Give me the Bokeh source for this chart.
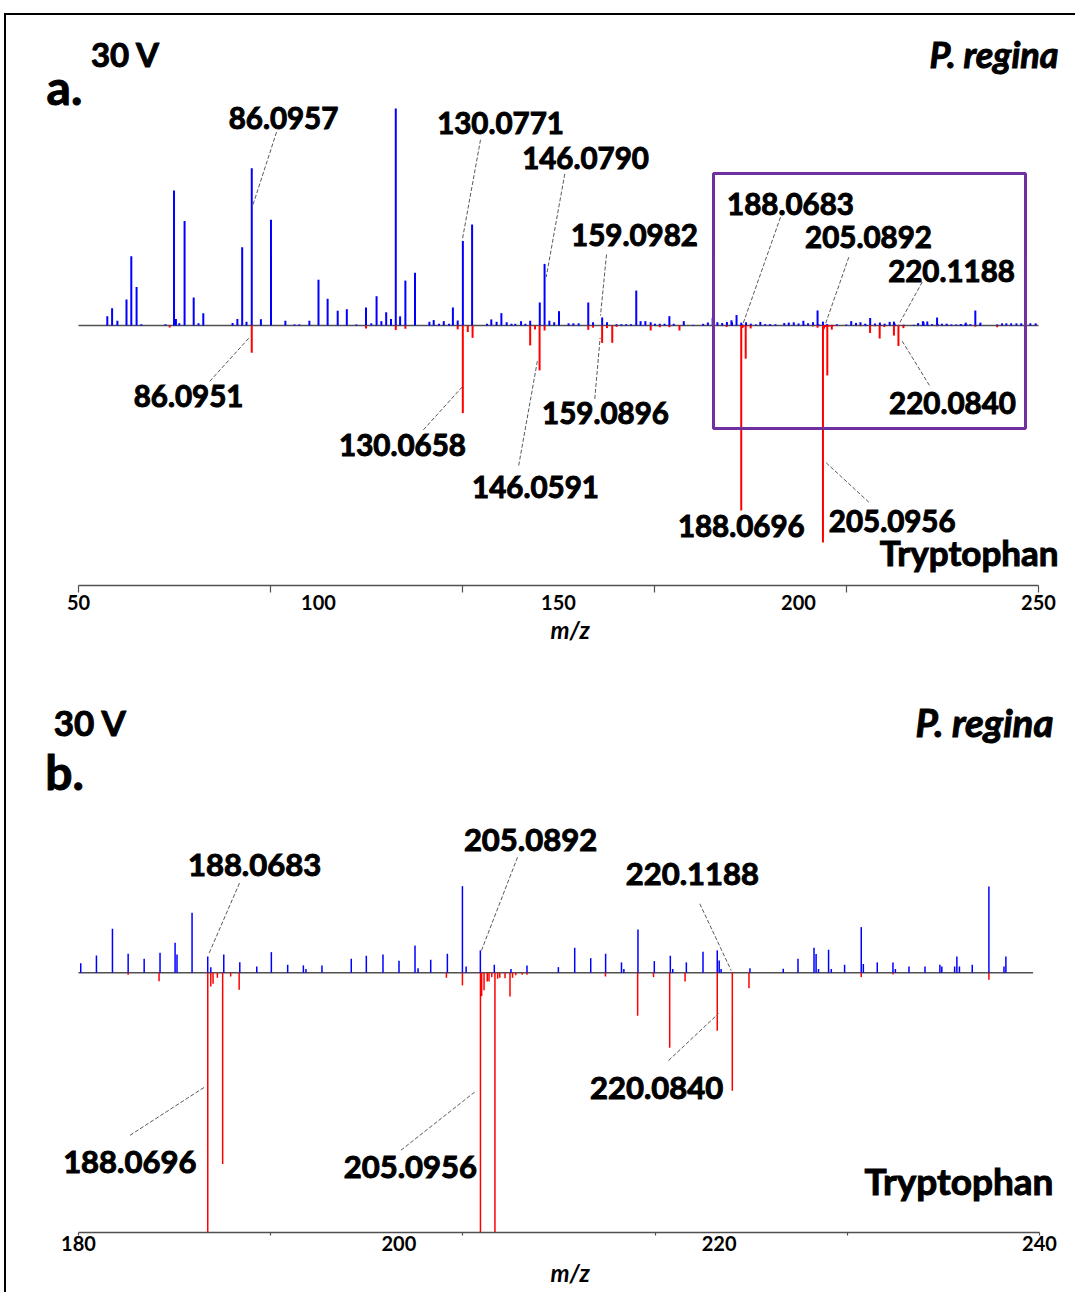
from bokeh.plotting import figure
from bokeh.models import LinearAxis, FixedTicker, Label, Range1d, BoxAnnotation, Title
from bokeh.layouts import column
from bokeh.embed import file_html
from bokeh.resources import INLINE

# ---------------- data (m/z, relative intensity %) ----------------
# upper trace (blue): sample spectrum
pos_mz = [56.0, 57.0, 58.1, 60.0, 61.0, 62.1, 63.1, 68.1, 69.9, 70.3, 71.0, 72.1, 74.0, 75.0, 76.0,
          82.1, 83.1, 84.1, 85.0, 86.0957, 88.0, 90.1, 93.1, 95.0, 96.0, 98.1, 100.0, 101.9, 104.0,
          105.9, 107.9, 109.9, 111.0, 112.1, 113.1, 114.1, 115.1, 116.1, 117.0, 118.1, 120.1, 123.1,
          124.0, 125.1, 126.1, 127.2, 128.0, 129.0, 130.0771, 132.0, 135.1, 136.0, 137.1, 138.1,
          139.2, 140.2, 141.0, 142.2, 143.1, 144.1, 146.1, 147.1, 148.1, 149.1, 150.1, 152.1, 153.1,
          154.2, 156.2, 157.2, 159.0982, 160.1, 162.1, 163.1, 164.1, 165.1, 166.2, 167.1, 168.1,
          169.2, 170.1, 171.1, 172.1, 173.1, 174.0, 176.1, 178.1,
          180.14, 181.12, 182.12, 183.1, 184.1, 185.09, 186.03, 186.15, 187.09, 188.0683, 188.26,
          189.07, 190.07, 191.13, 192.04, 193.06, 194.04, 194.2, 195.2, 197.03, 197.97, 199.01,
          200.01, 201.01, 201.2, 201.99, 203.03, 203.97, 204.2, 205.0892, 205.96, 207.0, 208.0,
          209.96, 210.98, 211.98, 212.91, 213.9, 214.05, 214.93, 215.95, 216.95, 217.1, 217.95,
          218.99, 219.88, 220.0, 220.1188, 221.92, 224.0, 224.92, 225.92, 226.05, 226.2, 226.83,
          227.0, 227.83, 228.87, 229.0, 229.87, 230.85, 231.0, 231.85, 232.85, 233.78, 233.9,
          234.7, 234.84, 235.0, 235.8, 236.84, 237.78, 237.9,
          241.4, 242.4, 243.3, 244.3, 245.4, 246.4, 247.3, 248.3, 249.4]
pos_int = [4.3, 8.0, 2.2, 12.0, 31.9, 17.7, 0.6, 0.6, 62.2, 3.0, 1.0, 48.1, 12.9, 1.0, 5.7,
           1.2, 3.0, 36.1, 1.7, 72.5, 2.9, 48.7, 2.2, 0.5, 0.5, 2.2, 21.1, 12.3, 6.8,
           7.5, 0.5, 8.3, 1.0, 13.5, 2.0, 6.1, 3.0, 100.0, 4.2, 20.7, 24.3, 1.7,
           2.5, 0.8, 2.0, 0.8, 8.3, 2.3, 38.9, 46.5, 0.8, 2.8, 1.7, 5.7,
           1.5, 0.8, 0.8, 2.0, 0.8, 2.2, 10.6, 28.4, 2.2, 1.5, 6.6, 1.0, 1.0,
           1.0, 10.6, 1.5, 3.7, 1.5, 0.6, 0.6, 0.6, 0.6, 16.1, 2.0, 2.0,
           1.5, 0.8, 0.8, 0.8, 4.3, 0.8, 2.0, 0.3,
           0.77, 1.39, 3.52, 1.52, 1.12, 1.6, 2.4, 1.47, 4.8, 1.31, 0.45,
           1.47, 0.85, 0.5, 1.65, 0.64, 0.59, 0.3, 0.59, 1.12, 1.36, 1.47,
           0.96, 2.19, 0.37, 1.04, 1.52, 6.93, 0.5, 1.79, 0.64, 0.3, 0.59,
           0.45, 2.0, 1.17, 1.52, 0.83, 0.3, 3.47, 0.93, 1.36, 0.3, 0.83,
           1.68, 1.79, 0.99, 0.3, 0.37, 0.32, 1.12, 2.0, 1.5, 0.3, 1.84,
           0.3, 0.64, 3.65, 0.7, 0.83, 0.83, 0.3, 0.5, 0.5, 0.64, 0.5,
           0.5, 1.31, 0.5, 0.64, 6.9, 0.5, 1.31,
           0.5, 1.0, 1.0, 1.0, 1.0, 1.0, 1.0, 1.0, 1.0]

# lower trace (red): tryptophan reference spectrum, plotted downward
neg_mz = [69.0, 86.0951, 109.9, 116.1, 118.1, 129.0, 130.0658, 131.1, 132.1, 144.1, 145.1,
          146.0591, 147.1, 156.2, 157.2, 159.0896, 160.1, 161.2, 162.1, 169.2, 171.1, 173.1, 175.2,
          183.1, 185.03, 188.0696, 188.26, 188.4, 188.67, 189.0, 189.5, 190.03, 202.97, 203.97,
          205.0956, 205.17, 205.32, 205.52, 205.63, 205.8, 206.0, 206.17, 206.3, 206.63, 206.94,
          207.1, 207.3, 207.7, 208.0, 212.9, 214.91, 215.9, 216.91, 217.87, 219.88, 220.82,
          221.86, 228.87, 230.85, 236.84, 241.4]
neg_int = [-0.9, -12.6, -1.4, -2.1, -1.5, -1.8, -40.4, -3.0, -5.7, -9.2, -1.8,
           -20.7, -2.3, -2.0, -1.0, -8.0, -1.2, -8.0, -0.6, -2.3, -0.8, -0.8, -2.3,
           -0.15, -0.67, -85.3, -1.09, -0.88, -0.4, -15.3, -0.3, -1.36, -0.4, -1.01,
           -100.0, -1.87, -1.4, -0.7, -0.7, -0.35, -23.0, -0.48, -0.4, -0.43, -1.89,
           -0.4, -0.2, -0.15, -0.15, -0.3, -3.44, -0.35, -6.0, -0.7, -4.64, -9.44,
           -1.23, -0.35, -0.13, -0.56, -0.8]

top_ticks = [50, 90, 130, 170, 210, 250]
top_tick_labels = [50, 100, 150, 200, 250]
bot_ticks = [180, 192, 204, 216, 228, 240]
bot_tick_labels = [180, 200, 220, 240]

# ---------------- annotations (text, x m/z, y intensity) ----------------
top_labels = [("86.0957", 92.71, 95.4), ("130.0771", 137.92, 93.1), ("146.0790", 155.63, 77.4),
              ("159.0982", 165.83, 41.5), ("188.0683", 198.33, 56.2), ("205.0892", 214.58, 41.0),
              ("220.1188", 231.88, 25.3), ("220.0840", 232.08, -35.5), ("86.0951", 72.92, -32.7),
              ("130.0658", 117.5, -55.3), ("146.0591", 145.21, -74.5), ("159.0896", 159.79, -40.3),
              ("188.0696", 188.08, -92.2), ("205.0956", 219.52, -90.2)]
top_leaders = [(91.25, 89.1, 86.19, 54.5), (133.75, 85.6, 129.94, 39.2), (151.31, 69.9, 147.44, 22.3),
               (160.0, 32.7, 158.75, 4.6), (196.25, 49.9, 188.4, 0.5), (210.48, 31.5, 205.63, 0.8),
               (225.77, 20.0, 220.9, 0.5), (221.6, -7.2, 227.5, -28.4), (77.35, -25.7, 85.54, -5.7),
               (121.85, -48.1, 130.02, -28.1), (141.71, -64.5, 145.65, -15.8),
               (157.56, -33.8, 158.67, -5.7), (214.65, -81.4, 205.63, -63.0)]
bot_labels = [("188.0683", 190.99, 8.6), ("205.0892", 208.22, 10.6), ("220.1188", 218.33, 7.9),
              ("220.0840", 216.09, -9.2), ("188.0696", 183.2, -15.1), ("205.0956", 200.72, -15.5)]
bot_leaders = [(190.05, 7.17, 188.14, 1.52), (207.41, 9.24, 205.16, 1.79), (218.79, 5.52, 220.75, 0.18),
               (216.84, -7.02, 219.96, -3.26), (183.22, -13.0, 187.87, -9.15), (200.13, -14.2, 204.73, -9.55)]

FONT = "Lato"
W = 1069


def make_panel(xr, yr, height, bottom_border, ticks, tick_labels, bar_w, tick_out, lab_standoff,
               title_standoff, base_end):
    p = figure(width=W, height=height, x_range=Range1d(*xr), y_range=Range1d(*yr),
               output_backend="svg", toolbar_location=None,
               x_axis_location=None, y_axis_location=None,
               min_border_left=0, min_border_right=0, min_border_top=0,
               min_border_bottom=bottom_border)
    p.outline_line_color = None
    p.grid.visible = False
    p.background_fill_color = "white"
    p.border_fill_color = "white"

    lo, hi = tick_labels[0], tick_labels[-1]
    ax1 = LinearAxis(ticker=FixedTicker(ticks=ticks, minor_ticks=[]), bounds=(lo, hi),
                     major_label_text_alpha=0, major_label_text_font_size="1px",
                     major_label_standoff=0, major_tick_out=tick_out, major_tick_in=0,
                     minor_tick_out=0, minor_tick_in=0,
                     axis_line_color="#505050", axis_line_width=1.5,
                     major_tick_line_color="#505050", major_tick_line_width=1.2)
    ax2 = LinearAxis(ticker=FixedTicker(ticks=tick_labels, minor_ticks=[]), bounds=(lo, hi),
                     axis_line_color=None, major_tick_line_color=None, minor_tick_line_color=None,
                     major_tick_out=0, major_tick_in=0, minor_tick_out=0, minor_tick_in=0,
                     major_label_standoff=lab_standoff,
                     major_label_text_font=FONT, major_label_text_font_style="bold",
                     major_label_text_font_size="20px", major_label_text_color="black")
    p.add_layout(ax1, "below")
    p.add_layout(ax2, "below")
    # axis title "m/z", centred a little right of the axis middle as in the original
    p.add_layout(Title(text="m/z", align="left", offset=544, standoff=title_standoff,
                       text_font=FONT, text_font_style="bold italic", text_font_size="24px",
                       text_color="black"), "below")

    # baseline (zero intensity) across the m/z span
    p.segment(x0=[lo], y0=[0], x1=[base_end], y1=[0], line_color="#505050", line_width=1.3)

    bx = [(m, v) for m, v in zip(pos_mz, pos_int) if lo <= m <= hi]
    rx = [(m, v) for m, v in zip(neg_mz, neg_int) if lo <= m <= hi]
    p.segment(x0=[m for m, _ in bx], y0=[0] * len(bx), x1=[m for m, _ in bx], y1=[v for _, v in bx],
              line_color="#0000FF", line_width=bar_w)
    p.segment(x0=[m for m, _ in rx], y0=[0] * len(rx), x1=[m for m, _ in rx], y1=[v for _, v in rx],
              line_color="#FF0000", line_width=bar_w)
    return p


def add_text(p, text, x, y, size, align="center", style="bold"):
    p.add_layout(Label(x=x, y=y, text=text, x_units="data", y_units="data",
                       text_align=align, text_baseline="middle", text_font=FONT,
                       text_font_style=style, text_font_size=size, text_color="black",
                       text_outline_color="black"))


def add_leaders(p, leaders):
    p.segment(x0=[l[0] for l in leaders], y0=[l[1] for l in leaders],
              x1=[l[2] for l in leaders], y1=[l[3] for l in leaders],
              line_color="#595959", line_width=1, line_dash="4 2")


# ---------------- panel a ----------------
p1 = make_panel((35.0, 35.0 + W / 4.8), (-119.82, 142.86), 647, 77, top_ticks, top_tick_labels,
                2.0, 7, 2, 1, 250)
add_leaders(p1, top_leaders)
for t, x, y in top_labels:
    add_text(p1, t, x, y, "29.5px")
add_text(p1, "30 V", 59.79, 124.9, "33px")
add_text(p1, "a.", 47.08, 110.0, "48px")
add_text(p1, "P. regina", 254.17, 124.9, "36px", align="right", style="bold italic")
add_text(p1, "Tryptophan", 254.17, -104.6, "35px", align="right")
p1.add_layout(BoxAnnotation(left=182.29, right=247.29, top=70.05, bottom=-47.47,
                            fill_alpha=0, line_color="#7030A0", line_width=3, line_alpha=1))

# ---------------- panel b ----------------
bx0 = 180 - 72 / 16.017
p2 = make_panel((bx0, bx0 + W / 16.017), (-20.78, 24.82), 630, 60, bot_ticks, bot_tick_labels,
                1.5, 3, 0, 4, 239.6)
add_leaders(p2, bot_leaders)
for t, x, y in bot_labels:
    add_text(p2, t, x, y, "31px")
add_text(p2, "30 V", 180.75, 20.1, "35px")
add_text(p2, "b.", 179.13, 16.1, "48px")
add_text(p2, "P. regina", 240.87, 20.1, "38.5px", align="right", style="bold italic")
add_text(p2, "Tryptophan", 240.87, -16.6, "37px", align="right")

layout = column(p1, p2, styles={"border-left": "2px solid black", "border-top": "2px solid black",
                                "margin-top": "13px", "margin-left": "4px"})

open("out.html", "w").write(file_html(layout, INLINE))
